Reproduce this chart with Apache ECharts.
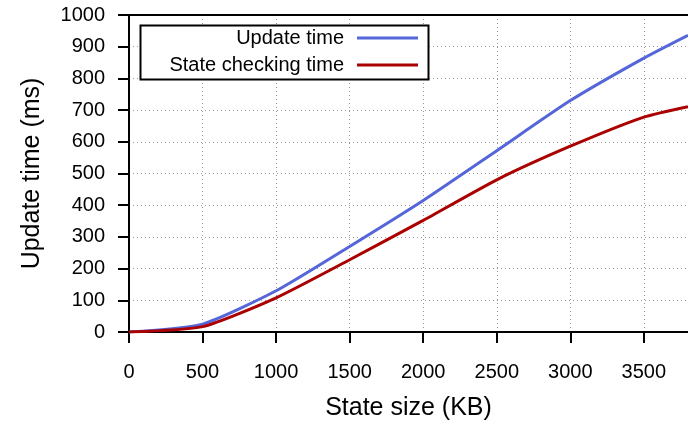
<!DOCTYPE html>
<html>
<head>
<meta charset="utf-8">
<script src="https://cdn.jsdelivr.net/npm/echarts@6/dist/echarts.min.js"></script>
<style>
  html, body { margin: 0; padding: 0; background: #fff; }
  #chart { width: 688px; height: 425px; }
</style>
</head>
<body>
<div id="chart"></div>
<script>
// data
const stateSize = [0, 500, 1000, 1500, 2000, 2500, 3000, 3500, 3800]
const updateTime = [0, 25, 130, 270, 415, 572, 730, 864, 936]
const checkTime = [0, 17, 108, 228, 352, 480, 586, 678, 711]
const seriesNames = ['Update time', 'State checking time']
const xTicks = [0, 500, 1000, 1500, 2000, 2500, 3000, 3500]

const font = 'Liberation Sans, Arial, Helvetica, sans-serif'
const chart = echarts.init(document.getElementById('chart'))

const gridLine = { show: true, lineStyle: { color: '#999', type: [1, 3], width: 1 } }

chart.setOption({
  animation: false,
  grid: { left: 129, right: 0, top: 15, bottom: 93, outerBoundsMode: 'none' },
  graphic: [
    {
      type: 'rect',
      shape: { x: 140.5, y: 25.5, width: 288, height: 54 },
      style: { fill: '#fff', stroke: '#000', lineWidth: 2 },
      z: 50
    }
  ],
  legend: [0, 1].map(i => ({
    data: [seriesNames[i]],
    right: 270,
    top: i === 0 ? 28 : 55,
    align: 'right',
    icon: 'rect',
    itemWidth: 61,
    itemHeight: 3,
    padding: 0,
    z: 60,
    textStyle: { fontFamily: font, fontSize: 20, color: '#000', padding: [0, 8, 0, 0] }
  })),
  xAxis: [
    {
      type: 'value',
      min: 0,
      max: 3800,
      interval: 500,
      name: 'State size (KB)',
      nameLocation: 'middle',
      nameGap: 64,
      nameTextStyle: { fontFamily: font, fontSize: 25, color: '#000' },
      axisLine: { lineStyle: { color: '#000', width: 2 } },
      axisTick: { length: 11, customValues: xTicks, lineStyle: { color: '#000', width: 2 } },
      axisLabel: { fontFamily: font, fontSize: 20, color: '#000', margin: 30,
        customValues: xTicks, formatter: v => String(v) },
      splitLine: gridLine
    },
    {
      type: 'value',
      position: 'top',
      min: 0,
      max: 3800,
      axisLine: { show: true, lineStyle: { color: '#000', width: 2 } },
      axisTick: { show: false },
      axisLabel: { show: false },
      splitLine: { show: false }
    }
  ],
  yAxis: {
    type: 'value',
    min: 0,
    max: 1000,
    interval: 100,
    name: 'Update time (ms)',
    nameLocation: 'middle',
    nameGap: 84,
    nameTextStyle: { fontFamily: font, fontSize: 25, color: '#000' },
    axisLine: { show: true, lineStyle: { color: '#000', width: 2 } },
    axisTick: { show: true, length: 11, lineStyle: { color: '#000', width: 2 } },
    axisLabel: { fontFamily: font, fontSize: 20, color: '#000', margin: 24, formatter: v => String(v) },
    splitLine: gridLine
  },
  series: [
    {
      name: seriesNames[0],
      type: 'line',
      data: stateSize.map((x, i) => [x, updateTime[i]]),
      smooth: 0.2,
      showSymbol: false,
      color: '#5566d9',
      lineStyle: { width: 3 }
    },
    {
      name: seriesNames[1],
      type: 'line',
      data: stateSize.map((x, i) => [x, checkTime[i]]),
      smooth: 0.2,
      showSymbol: false,
      color: '#aa0000',
      lineStyle: { width: 3 }
    }
  ]
})
</script>
</body>
</html>
